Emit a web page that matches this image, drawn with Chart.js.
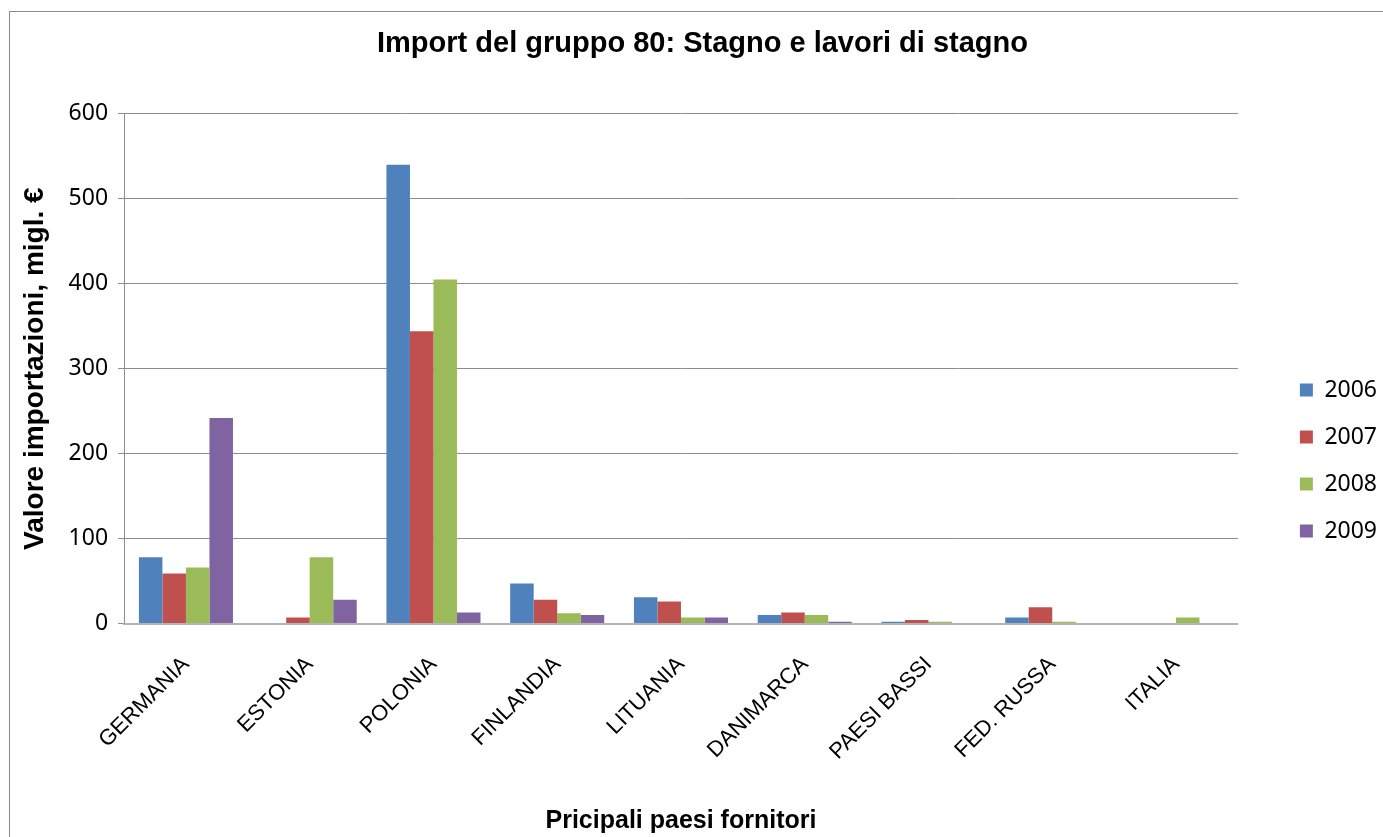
<!DOCTYPE html>
<html>
<head>
<meta charset="utf-8">
<script src="https://cdn.jsdelivr.net/npm/chart.js@4/dist/chart.umd.min.js"></script>
<style>
  html, body { margin: 0; padding: 0; background: #fff; }
  #frame {
    position: absolute; left: 9px; top: 11px;
    width: 1380px; height: 830px;
    border: 1px solid #8a8a8a;
  }
  #wrap { position: absolute; left: 0; top: 0; width: 1383px; height: 837px; }
</style>
</head>
<body>
<div id="frame"></div>
<div id="wrap"><canvas id="chart" width="1383" height="837"></canvas></div>
<script>
// countries on the x axis
var COUNTRIES = ["GERMANIA", "ESTONIA", "POLONIA", "FINLANDIA", "LITUANIA",
                 "DANIMARCA", "PAESI BASSI", "FED. RUSSA", "ITALIA"];
var YEARS = ["2006", "2007", "2008", "2009"];

// import values, thousands of euro
var V2006 = [78, 0, 540, 47, 31, 10, 2, 7, 0];
var V2007 = [59, 7, 344, 28, 26, 13, 4, 19, 0];
var V2008 = [66, 78, 405, 12, 7, 10, 2, 2, 7];
var V2009 = [242, 28, 13, 10, 7, 2, 0, 0, 0];

var Y_TICKS = [0, 100, 200, 300, 400, 500, 600];

var COLORS = ["#4F81BD", "#C0504D", "#9BBB59", "#8064A2"];

// how far the legend is moved from its default spot (right / down)
var LEGEND_DX = 38;
var LEGEND_DY = 32;
// the title sits a bit right of the centre in the original
var TITLE_DX = 19;

var chart;

// moves the legend block and the title a bit, like in the original
var boxShift = {
    id: "boxShift",
    afterLayout: function (c) {
        if (c.legend) {
            c.legend.left += LEGEND_DX;
            c.legend.right += LEGEND_DX;
            c.legend.top += LEGEND_DY;
            c.legend.bottom += LEGEND_DY;
        }
        if (c.titleBlock) {
            c.titleBlock.left += TITLE_DX;
            c.titleBlock.right += TITLE_DX;
        }
    }
};

function initChart() {
    var series = [V2006, V2007, V2008, V2009];
    var datasets = [];
    for (var i = 0; i < YEARS.length; i++) {
        datasets.push({
            label: YEARS[i],
            data: series[i],
            backgroundColor: COLORS[i],
            borderWidth: 0,
            barPercentage: 1.0,
            categoryPercentage: 0.76
        });
    }

    chart = new Chart(document.getElementById("chart"), {
        type: 'bar',
        data: { labels: COUNTRIES, datasets: datasets },
        plugins: [boxShift],
        options: {
            responsive: false,
            animation: false,
            devicePixelRatio: 1,
            layout: { padding: { left: 18, right: 34, top: 21, bottom: 1 } },
            plugins: {
                title: {
                    display: true,
                    text: "Import del gruppo 80: Stagno e lavori di stagno",
                    color: "#000",
                    font: { family: "Liberation Sans", size: 29, weight: "bold" },
                    padding: { top: 6, bottom: 52 }
                },
                legend: {
                    position: 'right',
                    labels: {
                        boxWidth: 13,
                        boxHeight: 13,
                        padding: 24,
                        color: "#000",
                        font: { family: "Noto Sans", size: 23 }
                    }
                },
                tooltip: { enabled: false }
            },
            scales: {
                x: {
                    grid: { display: false, drawTicks: false },
                    border: { display: true, color: "#b4b4b4", width: 2 },
                    ticks: {
                        color: "#000",
                        font: { family: "Liberation Sans", size: 22 },
                        maxRotation: 45,
                        minRotation: 45,
                        padding: 28,
                        autoSkip: false
                    },
                    title: {
                        display: true,
                        text: "Pricipali paesi fornitori",
                        color: "#000",
                        font: { family: "Liberation Sans", size: 25, weight: "bold" },
                        padding: { top: 13, bottom: 0 }
                    }
                },
                y: {
                    min: 0,
                    max: 600,
                    afterBuildTicks: function (axis) {
                        axis.ticks = Y_TICKS.map(function (v) { return { value: v }; });
                    },
                    grid: { color: "#8c8c8c", lineWidth: 1, tickLength: 6 },
                    border: { display: true, color: "#8c8c8c", width: 1 },
                    ticks: {
                        color: "#000",
                        font: { family: "Noto Sans", size: 23 },
                        padding: 10
                    },
                    title: {
                        display: true,
                        text: "Valore importazioni, migl. €",
                        color: "#000",
                        font: { family: "Liberation Sans", size: 28, weight: "bold" },
                        padding: { top: 0, bottom: 7 }
                    }
                }
            }
        }
    });
}

initChart();
</script>
</body>
</html>
